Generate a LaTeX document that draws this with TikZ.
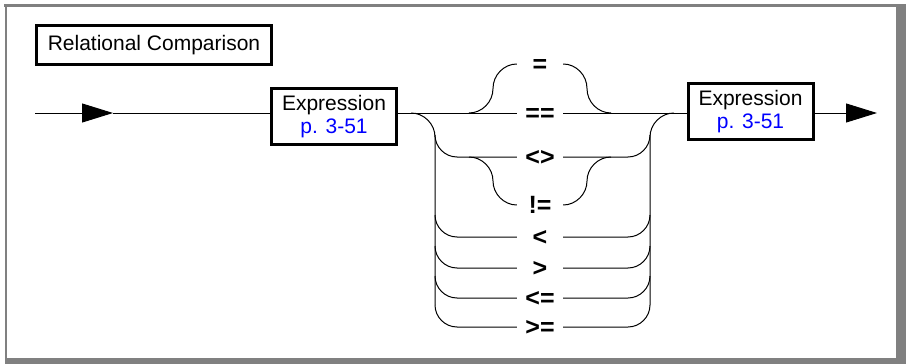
\documentclass[tikz,border=0pt]{standalone}
\usepackage{fontspec}
\setmainfont{Liberation Sans}
\usetikzlibrary{arrows.meta}
\definecolor{framegray}{RGB}{128,128,128}
\definecolor{linkblue}{RGB}{0,0,255}
\begin{document}
\begin{tikzpicture}[x=1pt,y=-1pt,
  rail/.style={line width=1pt,line cap=butt},
  boxnode/.style={draw,line width=3pt,minimum width=125pt,minimum height=56pt,inner sep=0pt,align=center,font=\fontsize{21}{23}\selectfont},
  titlebox/.style={draw,line width=3pt,minimum width=235pt,minimum height=39pt,inner sep=0pt,font=\fontsize{21}{25}\selectfont},
  oplabel/.style={font=\fontsize{25}{25}\selectfont\bfseries,minimum width=46pt,text height=16.5pt,text depth=0pt,inner sep=0pt},
  bigarrow/.style={-{Triangle[length=31pt,width=19pt]}}
]
\useasboundingbox (0,0) rectangle (906,364);
% frame
\fill[framegray] (896,4) rectangle (906,364);
\fill[framegray] (5,358) rectangle (906,364);
\draw[framegray,line width=2.7pt] (4,5.3) -- (896,5.3);
\draw[framegray,line width=2.8pt] (6,4) -- (6,358);

% nodes
\node[titlebox] (title) at (154,45) {Relational Comparison};
\node[boxnode] (e1) at (334,116.5) {Expression\\\textcolor{linkblue}{p. 3-51}};
\node[boxnode] (e2) at (750.5,111.5) {Expression\\\textcolor{linkblue}{p. 3-51}};

\node[oplabel] (eq)   at (540,64)  {=};
\node[oplabel] (eqeq) at (540,113) {==};
\node[oplabel] (ne)   at (540,157) {<>};
\node[oplabel] (neq)  at (540,205) {!=};
\node[oplabel] (lt)   at (540,237) {<};
\node[oplabel] (gt)   at (540,268) {>};
\node[oplabel] (le)   at (540,298) {<=};
\node[oplabel] (ge)   at (540,327) {>=};

% coordinates
\coordinate (start) at (35,113);
\coordinate (tip1) at (113,113);
\coordinate (tip2) at (877,113);
\coordinate (ls) at (411,113);
\coordinate (rj) at (674,113);
\coordinate (eqL) at (469,113);
\coordinate (eqR) at (611,113);
\coordinate (neqL) at (469,157);
\coordinate (neqR) at (611,157);

% entry and main line
\draw[rail,bigarrow] (start) -- (tip1);
\draw[rail] (tip1) -- (e1.west |- start);
\draw[rail] (e1.east |- start) -- (eqeq.west);
\draw[rail] (eqeq.east) -- (e2.west |- start);
\draw[rail,bigarrow] (e2.east |- start) -- (tip2);

% "=" bubble
\draw[rail] (eqL) .. controls (482,113) and (493,102) .. (493,88.5)
  .. controls (493,75) and (504,64) .. (eq.west);
\draw[rail] (eq.east) .. controls (576,64) and (587,75) .. (587,88.5)
  .. controls (587,102) and (598,113) .. (eqR);

% left and right verticals
\draw[rail] (ls) .. controls (424,113) and (435,124) .. (435,137) -- (435,305);
\draw[rail] (650,305) -- (650,137) .. controls (650,124) and (661,113) .. (rj);

% rows branching from verticals
\foreach \n/\y in {ne/157,lt/237,gt/268,le/298,ge/327}{
  \draw[rail] (435,\y-22) .. controls (435,\y-10) and (445,\y) .. (457,\y) -- (\n.west);
  \draw[rail] (\n.east) -- (628,\y) .. controls (640,\y) and (650,\y-10) .. (650,\y-22);
}

% "!=" bubble
\draw[rail] (neqL) .. controls (482,157) and (493,168) .. (493,181)
  .. controls (493,194) and (504,205) .. (neq.west);
\draw[rail] (neq.east) .. controls (576,205) and (587,194) .. (587,181)
  .. controls (587,168) and (598,157) .. (neqR);
\end{tikzpicture}
\end{document}
